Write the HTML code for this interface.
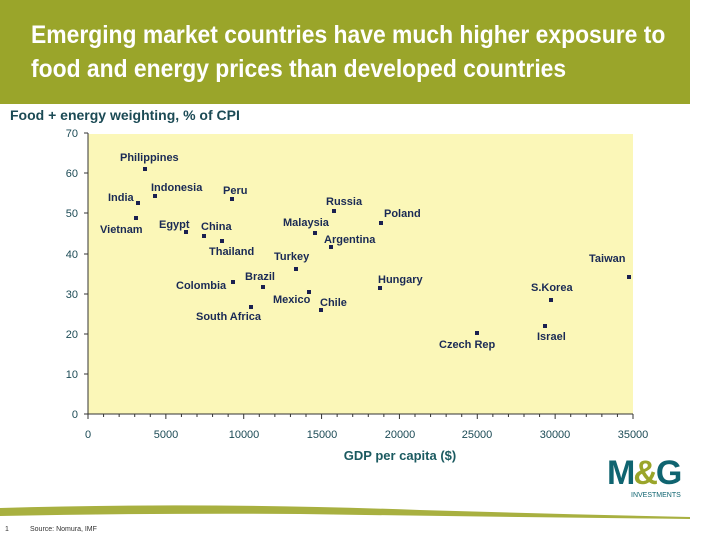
<!DOCTYPE html><html><head><style>
body{margin:0;width:720px;height:540px;background:#fff;position:relative;overflow:hidden;font-family:"Liberation Sans",sans-serif}
.hdr{position:absolute;left:0;top:0;width:690px;height:104px;background:#9aa52a}
.hdr div{position:absolute;left:31px;top:18px;color:#fff;font-size:25px;font-weight:bold;line-height:34px;transform:scaleX(.915);transform-origin:left;white-space:nowrap}
</style></head><body>
<div class="hdr"><div>Emerging market countries have much higher exposure to<br>food and energy prices than developed countries</div></div>
<svg width="720" height="540" style="position:absolute;left:0;top:0" font-family="Liberation Sans, sans-serif">
<text x="10" y="120" font-size="14" font-weight="bold" fill="#1b4a55">Food + energy weighting, % of CPI</text>
<rect x="88" y="134" width="545" height="280" fill="#fbf7b8"/>
<g stroke="#333" stroke-width="1">
<line x1="88" y1="133" x2="88" y2="414"/><line x1="88" y1="414" x2="633" y2="414"/>
<line x1="84" y1="414" x2="88" y2="414"/><line x1="84" y1="374" x2="88" y2="374"/><line x1="84" y1="334" x2="88" y2="334"/><line x1="84" y1="294" x2="88" y2="294"/><line x1="84" y1="254" x2="88" y2="254"/><line x1="84" y1="213" x2="88" y2="213"/><line x1="84" y1="173" x2="88" y2="173"/><line x1="84" y1="133" x2="88" y2="133"/>
</g>
<g stroke="#333" id="xt"></g>
<g font-size="11" fill="#1b4a55" text-anchor="end">
<text x="78" y="418">0</text><text x="78" y="378">10</text><text x="78" y="338">20</text><text x="78" y="298">30</text><text x="78" y="258">40</text><text x="78" y="217">50</text><text x="78" y="177">60</text><text x="78" y="137">70</text></g>
<g font-size="11" fill="#1b4a55" text-anchor="middle">
<text x="88" y="438">0</text><text x="166" y="438">5000</text><text x="244" y="438">10000</text><text x="322" y="438">15000</text><text x="400" y="438">20000</text><text x="477" y="438">25000</text><text x="555" y="438">30000</text><text x="633" y="438">35000</text></g>
<text x="400" y="460" font-size="13" font-weight="bold" fill="#1b5a60" text-anchor="middle">GDP per capita ($)</text>
<g fill="#1a2050">
<rect x="143" y="167" width="4" height="4"/><rect x="136" y="201" width="4" height="4"/><rect x="153" y="194" width="4" height="4"/><rect x="134" y="216" width="4" height="4"/><rect x="184" y="230" width="4" height="4"/><rect x="202" y="234" width="4" height="4"/><rect x="220" y="239" width="4" height="4"/><rect x="230" y="197" width="4" height="4"/><rect x="231" y="280" width="4" height="4"/><rect x="261" y="285" width="4" height="4"/><rect x="249" y="305" width="4" height="4"/><rect x="294" y="267" width="4" height="4"/><rect x="307" y="290" width="4" height="4"/><rect x="313" y="231" width="4" height="4"/><rect x="332" y="209" width="4" height="4"/><rect x="329" y="245" width="4" height="4"/><rect x="319" y="308" width="4" height="4"/><rect x="379" y="221" width="4" height="4"/><rect x="378" y="286" width="4" height="4"/><rect x="475" y="331" width="4" height="4"/><rect x="549" y="298" width="4" height="4"/><rect x="543" y="324" width="4" height="4"/><rect x="627" y="275" width="4" height="4"/>
</g>
<g font-size="11" font-weight="bold" fill="#1a2a55">
<text x="120" y="161">Philippines</text><text x="108" y="201">India</text><text x="151" y="191">Indonesia</text><text x="100" y="233">Vietnam</text><text x="159" y="228">Egypt</text><text x="201" y="230">China</text><text x="209" y="255">Thailand</text><text x="223" y="194">Peru</text><text x="176" y="289">Colombia</text><text x="245" y="280">Brazil</text><text x="196" y="320">South Africa</text><text x="274" y="260">Turkey</text><text x="273" y="303">Mexico</text><text x="283" y="226">Malaysia</text><text x="326" y="205">Russia</text><text x="324" y="243">Argentina</text><text x="320" y="306">Chile</text><text x="384" y="217">Poland</text><text x="378" y="283">Hungary</text><text x="439" y="348">Czech Rep</text><text x="531" y="291">S.Korea</text><text x="537" y="340">Israel</text><text x="589" y="262">Taiwan</text>
</g>
<text x="607" y="484" font-size="34" font-weight="bold" fill="#0f6470" letter-spacing="-2">M<tspan fill="#9aa52a">&amp;</tspan>G</text>
<text x="631" y="497" font-size="7" fill="#0f6470">INVESTMENTS</text>
<path d="M0 508 Q200 502 420 510 Q560 514 690 517 L690 519 Q500 517 300 514 Q150 513 0 516 Z" fill="#a8b040"/>
<text x="5" y="531" font-size="7" fill="#333">1</text>
<text x="30" y="531" font-size="7" fill="#333">Source: Nomura, IMF</text>
</svg>
<script>
var g=document.getElementById('xt'),s='';for(var i=0;i<=35;i++){var x=88+i*545/35;s+='<line x1="'+x+'" y1="414" x2="'+x+'" y2="'+(i%5?417:419)+'"/>';}g.innerHTML=s;
</script>
</body></html>
